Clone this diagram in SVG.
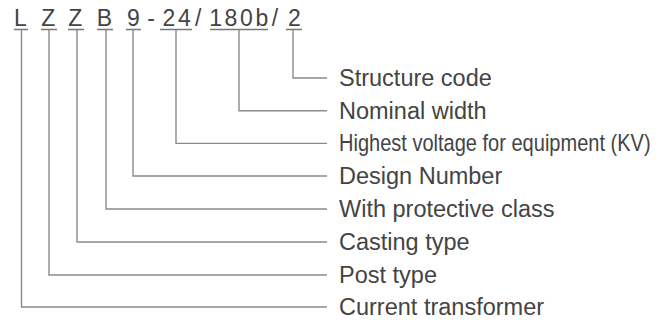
<svg xmlns="http://www.w3.org/2000/svg" width="660" height="326" viewBox="0 0 660 326">
<style>
.code{font-family:"Liberation Sans",Arial,sans-serif;font-size:23px;fill:#444;text-anchor:middle}
.grp{letter-spacing:2.6px}
.lbl{font-family:"Liberation Sans",Arial,sans-serif;font-size:23.5px;fill:#444}
.ul{stroke:#777;stroke-width:1.4;fill:none}
.cn{stroke:#8a8a8a;stroke-width:1.4;fill:none}
</style>
<rect width="660" height="326" fill="#fff"/>
<g id="code">
<text class="code" x="20.5" y="25.5">L</text>
<text class="code" x="48.3" y="25.5">Z</text>
<text class="code" x="75.3" y="25.5">Z</text>
<text class="code" x="104.5" y="25.5">B</text>
<text class="code" x="133.5" y="25.5">9</text>
<text class="code" x="151" y="25.5">-</text>
<text class="code grp" x="178" y="25.5">24</text>
<text class="code" x="198.3" y="25.5">/</text>
<text class="code grp" x="240" y="25.5">180b</text>
<text class="code" x="275" y="25.5">/</text>
<text class="code" x="294.5" y="25.5">2</text>
<path class="ul" d="M14 29.5H28M41 29.5H57M68 29.5H84M97 29.5H113M126 29.5H141M160 29.5H192M210 29.5H268M286 29.5H302"/>
</g>
<g id="connectors">
<path class="cn" d="M293 30V78H327"/>
<path class="cn" d="M239 30V110.7H327"/>
<path class="cn" d="M176 30V143.4H327"/>
<path class="cn" d="M133 30V176H327"/>
<path class="cn" d="M106 30V209H327"/>
<path class="cn" d="M77 30V242H327"/>
<path class="cn" d="M49 30V275H327"/>
<path class="cn" d="M21.5 30V307H327"/>
</g>
<g id="n-structure"><text class="lbl" x="339" y="86">Structure code</text></g>
<g id="n-width"><text class="lbl" x="339" y="118.7">Nominal width</text></g>
<g id="n-voltage"><text class="lbl" transform="translate(339 151.4) scale(0.852 1)" x="0" y="0">Highest voltage for equipment (KV)</text></g>
<g id="n-design"><text class="lbl" x="339" y="184">Design Number</text></g>
<g id="n-protective"><text class="lbl" x="339" y="217">With protective class</text></g>
<g id="n-casting"><text class="lbl" x="339" y="250">Casting type</text></g>
<g id="n-post"><text class="lbl" x="339" y="283">Post type</text></g>
<g id="n-ct"><text class="lbl" x="339" y="315">Current transformer</text></g>
</svg>
